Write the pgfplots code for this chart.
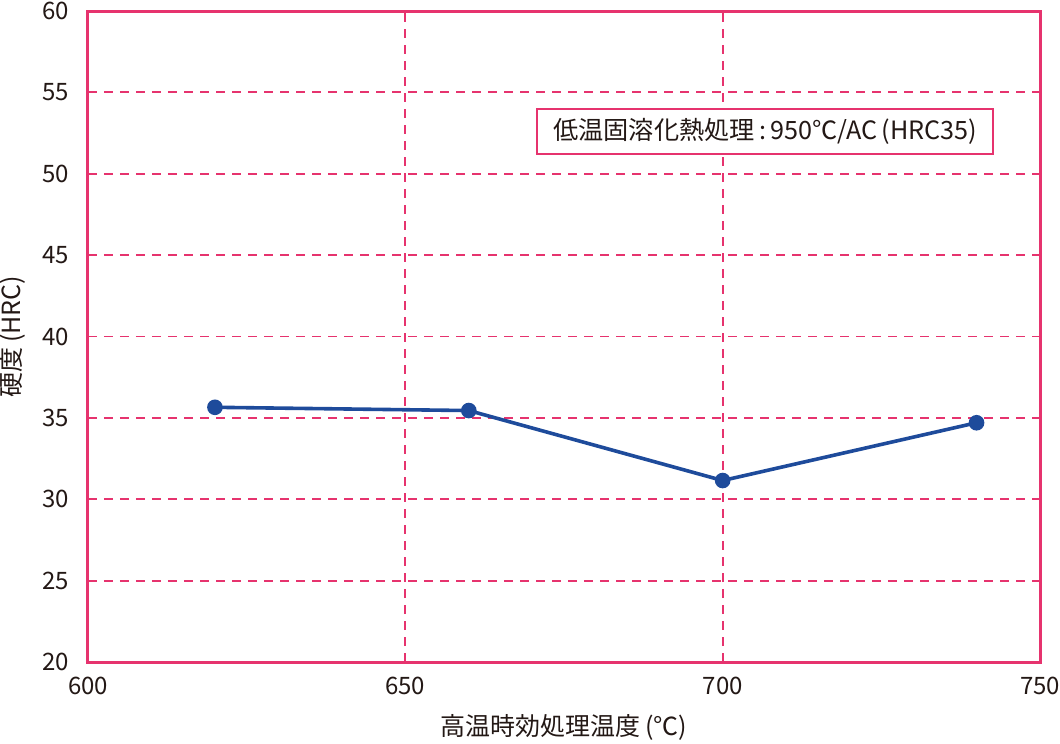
\documentclass[border=0pt]{standalone}
\usepackage{fontspec}
\setmainfont{Noto Sans CJK JP}
\usepackage{pgfplots}
\pgfplotsset{compat=1.18}
\definecolor{pink}{HTML}{E6336E}
\definecolor{navy}{HTML}{1E4B9B}
\definecolor{txt}{HTML}{231815}
\begin{document}
\begin{tikzpicture}
\begin{axis}[
    scale only axis,
    width=476pt, height=325.5pt,
    xmin=600, xmax=750, ymin=20, ymax=60,
    xtick={600,650,700,750},
    ytick={20,25,...,60},
    tick style={draw=none},
    axis line style={draw=pink, line width=1.5pt},
    grid=major,
    major grid style={draw=pink, line width=0.9pt, dash pattern=on 4.5pt off 3.5pt},
    /pgf/number format/assume math mode=true,
    ticklabel style={font=\fontsize{12}{14}\selectfont, text=txt},
    xticklabel style={yshift=-4pt},
    yticklabel style={xshift=-6pt},
    xlabel={高温時効処理温度\,(℃)},
    ylabel={硬度\,(HRC)},
    label style={font=\fontsize{12.5}{15}\selectfont, text=txt},
    xlabel style={at={(axis description cs:0.5,-0.0998)}, anchor=center},
    ylabel style={at={(axis description cs:-0.0798,0.5)}, anchor=center},
  ]
  \addplot[navy, line width=1.8pt, mark=*, mark size=3.4pt,
           mark options={fill=navy, draw=navy, line width=1pt}]
    coordinates {(620,35.65) (660,35.45) (700,31.15) (740,34.7)};
  \node[draw=pink, line width=1pt, fill=white, text=txt,
        minimum width=228pt, minimum height=22.5pt, inner sep=0pt,
        font=\fontsize{12.6}{15}\selectfont]
    at (axis cs:706.7,52.6) {低温固溶化熱処理\,:\,950℃/AC\,(HRC35)};
\end{axis}
\pgfresetboundingbox
\path (current axis.south west) ++(-44pt,-41pt) rectangle ++(530pt,372pt);
\end{tikzpicture}
\end{document}
